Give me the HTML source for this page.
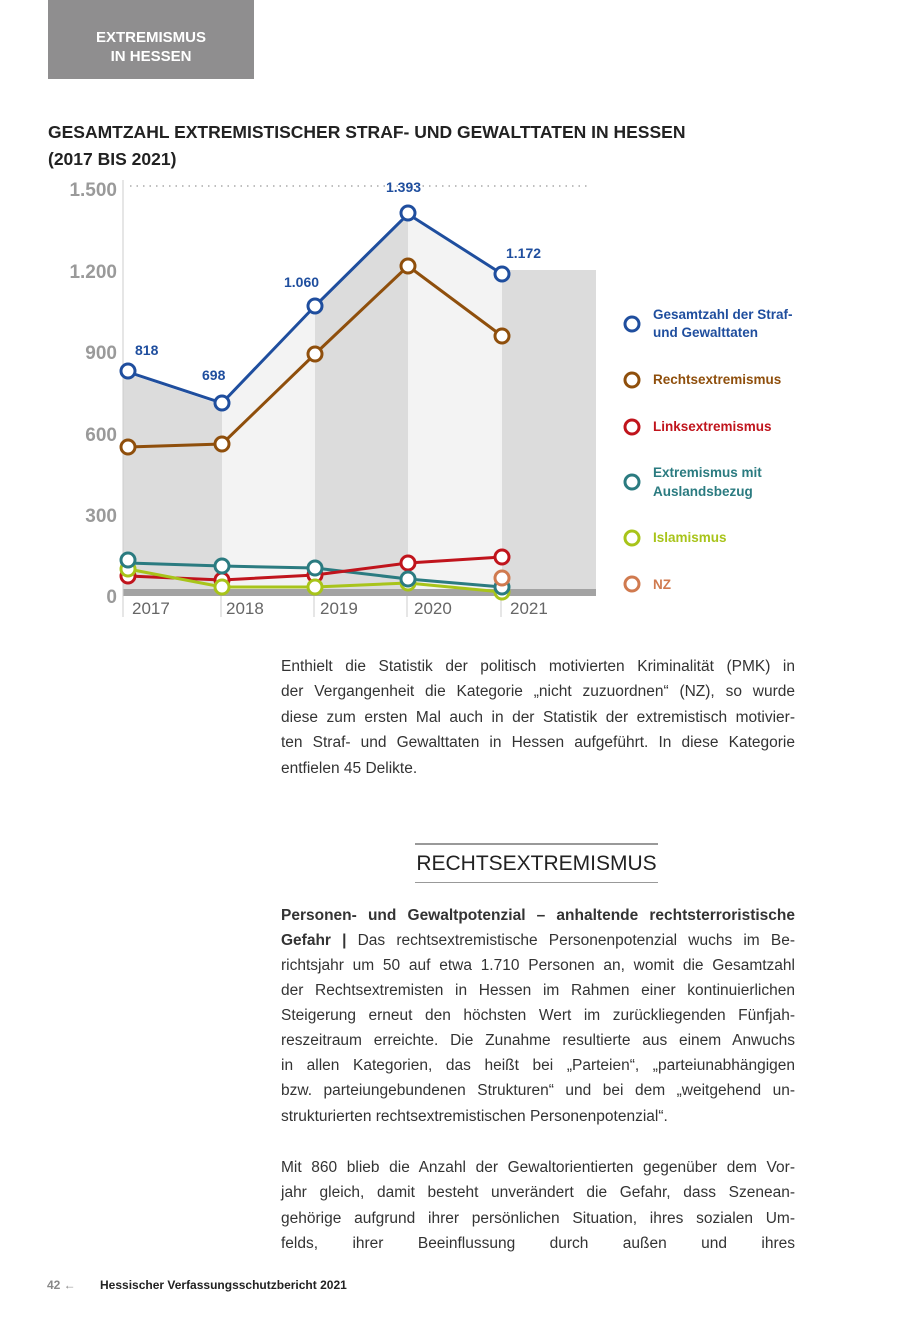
<!DOCTYPE html>
<html><head><meta charset="utf-8"><style>
body{margin:0;background:#fff;width:900px;height:1323px;position:relative;overflow:hidden;font-family:"Liberation Sans",sans-serif;}
.tab{position:absolute;left:48px;top:0;width:206px;height:79px;background:#8f8e8f;color:#fff;font-weight:bold;font-size:15px;text-align:center;line-height:19px;padding-top:28px;box-sizing:border-box;}
.title{position:absolute;left:48px;top:119px;font-weight:bold;font-size:17.5px;line-height:27px;color:#222;}
.l{position:absolute;left:281px;width:514px;font-size:15.5px;color:#333;white-space:nowrap;text-align:justify;text-align-last:justify;line-height:20px;}
.l.n{text-align-last:left;}
.h{position:absolute;left:415px;width:243px;top:843px;height:40px;border-top:2px solid #999;border-bottom:1px solid #999;box-sizing:border-box;font-size:21px;color:#222;line-height:37px;text-align:center;white-space:nowrap;}
.foot{position:absolute;top:1278px;font-size:12px;color:#222;font-weight:bold;}
</style></head><body>
<div class="tab">EXTREMISMUS<br>IN HESSEN</div>
<div class="title">GESAMTZAHL EXTREMISTISCHER STRAF- UND GEWALTTATEN IN HESSEN<br>(2017 BIS 2021)</div>
<svg style="position:absolute;left:0;top:0" width="900" height="640">
<polygon points="123,372 222,405 222,596 123,596" fill="#dcdcdc"/>
<polygon points="222,405 315,306 315,596 222,596" fill="#f3f3f3"/>
<polygon points="315,306 408,216 408,596 315,596" fill="#dcdcdc"/>
<polygon points="408,216 502,276 502,596 408,596" fill="#f3f3f3"/>
<rect x="502" y="270" width="94" height="326" fill="#dcdcdc"/>
<rect x="123" y="589" width="473" height="7" fill="#a3a3a3"/>
<line x1="123" y1="180" x2="123" y2="617" stroke="#ccc" stroke-width="1"/>
<g stroke="#ccc"><line x1="221" y1="596" x2="221" y2="617"/><line x1="314" y1="596" x2="314" y2="617"/><line x1="407" y1="596" x2="407" y2="617"/><line x1="501" y1="596" x2="501" y2="617"/></g>
<line x1="130" y1="186" x2="590" y2="186" stroke="#aaa" stroke-width="1.5" stroke-dasharray="1.5,5"/>
<g font-family="Liberation Sans" font-weight="bold" font-size="19" fill="#9a9a9a" text-anchor="end">
<text x="117" y="196">1.500</text><text x="117" y="278">1.200</text><text x="117" y="359">900</text><text x="117" y="441">600</text><text x="117" y="522">300</text><text x="117" y="603">0</text></g>
<g font-family="Liberation Sans" font-size="17" fill="#666"><text x="132" y="614">2017</text><text x="226" y="614">2018</text><text x="320" y="614">2019</text><text x="414" y="614">2020</text><text x="510" y="614">2021</text></g>
<g font-family="Liberation Sans" font-weight="bold" font-size="14" fill="#1f4e9e">
<text x="135" y="355">818</text><text x="202" y="380">698</text><text x="284" y="287">1.060</text><text x="386" y="192">1.393</text><text x="506" y="258">1.172</text></g>
<g fill="#fff" stroke-width="3">
<polyline points="128,563 222,566 315,568 408,579 502,587" fill="none" stroke="#2b7b80"/>
<polyline points="128,576 222,580 315,575 408,563 502,557" fill="none" stroke="#c0141c"/>
<polyline points="128,569 222,587 315,587 408,583 502,592" fill="none" stroke="#a8c41a"/>
<polyline points="128,447 222,444 315,354 408,266 502,336" fill="none" stroke="#8f4f0c"/>
<polyline points="128,372 222,403 315,306 408,214 502,274" fill="none" stroke="#1f4e9e"/>
<g stroke="#c0141c"><circle cx="128" cy="576" r="7"/><circle cx="222" cy="580" r="7"/><circle cx="315" cy="575" r="7"/><circle cx="408" cy="563" r="7"/><circle cx="502" cy="557" r="7"/></g>
<g stroke="#a8c41a"><circle cx="128" cy="569" r="7"/><circle cx="222" cy="587" r="7"/><circle cx="315" cy="587" r="7"/><circle cx="408" cy="583" r="7"/><circle cx="502" cy="592" r="7"/></g>
<g stroke="#2b7b80"><circle cx="128" cy="560" r="7"/><circle cx="222" cy="566" r="7"/><circle cx="315" cy="568" r="7"/><circle cx="408" cy="579" r="7"/><circle cx="502" cy="587" r="7"/></g>
<circle cx="502" cy="578" r="7" stroke="#d07a4f"/>
<g stroke="#8f4f0c"><circle cx="128" cy="447" r="7"/><circle cx="222" cy="444" r="7"/><circle cx="315" cy="354" r="7"/><circle cx="408" cy="266" r="7"/><circle cx="502" cy="336" r="7"/></g>
<g stroke="#1f4e9e"><circle cx="128" cy="371" r="7"/><circle cx="222" cy="403" r="7"/><circle cx="315" cy="306" r="7"/><circle cx="408" cy="213" r="7"/><circle cx="502" cy="274" r="7"/></g>
</g>
<g fill="none" stroke-width="3">
<circle cx="632" cy="324" r="7" stroke="#1f4e9e"/><circle cx="632" cy="380" r="7" stroke="#8f4f0c"/><circle cx="632" cy="427" r="7" stroke="#c0141c"/><circle cx="632" cy="482" r="7" stroke="#2b7b80"/><circle cx="632" cy="538" r="7" stroke="#a8c41a"/><circle cx="632" cy="584" r="7" stroke="#d07a4f"/></g>
<g font-family="Liberation Sans" font-weight="bold" font-size="13.5">
<text x="653" y="319" fill="#1f4e9e">Gesamtzahl der Straf-</text><text x="653" y="337" fill="#1f4e9e">und Gewalttaten</text>
<text x="653" y="384" fill="#8f4f0c">Rechtsextremismus</text>
<text x="653" y="431" fill="#c0141c">Linksextremismus</text>
<text x="653" y="477" fill="#2b7b80">Extremismus mit</text><text x="653" y="496" fill="#2b7b80">Auslandsbezug</text>
<text x="653" y="542" fill="#a8c41a">Islamismus</text>
<text x="653" y="589" fill="#d07a4f">NZ</text></g>
</svg>
<div class="l" style="top:657px">Enthielt die Statistik der politisch motivierten Kriminalität (PMK) in</div>
<div class="l" style="top:682px">der Vergangenheit die Kategorie „nicht zuzuordnen“ (NZ), so wurde</div>
<div class="l" style="top:708px">diese zum ersten Mal auch in der Statistik der extremistisch motivier-</div>
<div class="l" style="top:733px">ten Straf- und Gewalttaten in Hessen aufgeführt. In diese Kategorie</div>
<div class="l n" style="top:759px">entfielen 45 Delikte.</div>
<div class="h">RECHTSEXTREMISMUS</div>
<div class="l" style="top:906px"><b>Personen- und Gewaltpotenzial – anhaltende rechtsterroristische</b></div>
<div class="l" style="top:931px"><b>Gefahr |</b> Das rechtsextremistische Personenpotenzial wuchs im Be-</div>
<div class="l" style="top:956px">richtsjahr um 50 auf etwa 1.710 Personen an, womit die Gesamtzahl</div>
<div class="l" style="top:981px">der Rechtsextremisten in Hessen im Rahmen einer kontinuierlichen</div>
<div class="l" style="top:1006px">Steigerung erneut den höchsten Wert im zurückliegenden Fünfjah-</div>
<div class="l" style="top:1031px">reszeitraum erreichte. Die Zunahme resultierte aus einem Anwuchs</div>
<div class="l" style="top:1056px">in allen Kategorien, das heißt bei „Parteien“, „parteiunabhängigen</div>
<div class="l" style="top:1081px">bzw. parteiungebundenen Strukturen“ und bei dem „weitgehend un-</div>
<div class="l n" style="top:1107px">strukturierten rechtsextremistischen Personenpotenzial“.</div>
<div class="l" style="top:1158px">Mit 860 blieb die Anzahl der Gewaltorientierten gegenüber dem Vor-</div>
<div class="l" style="top:1183px">jahr gleich, damit besteht unverändert die Gefahr, dass Szenean-</div>
<div class="l" style="top:1209px">gehörige aufgrund ihrer persönlichen Situation, ihres sozialen Um-</div>
<div class="l" style="top:1234px">felds, ihrer Beeinflussung durch außen und ihres</div>
<div class="foot" style="left:47px;color:#888">42 ←</div>
<div class="foot" style="left:100px">Hessischer Verfassungsschutzbericht 2021</div>
</body></html>
